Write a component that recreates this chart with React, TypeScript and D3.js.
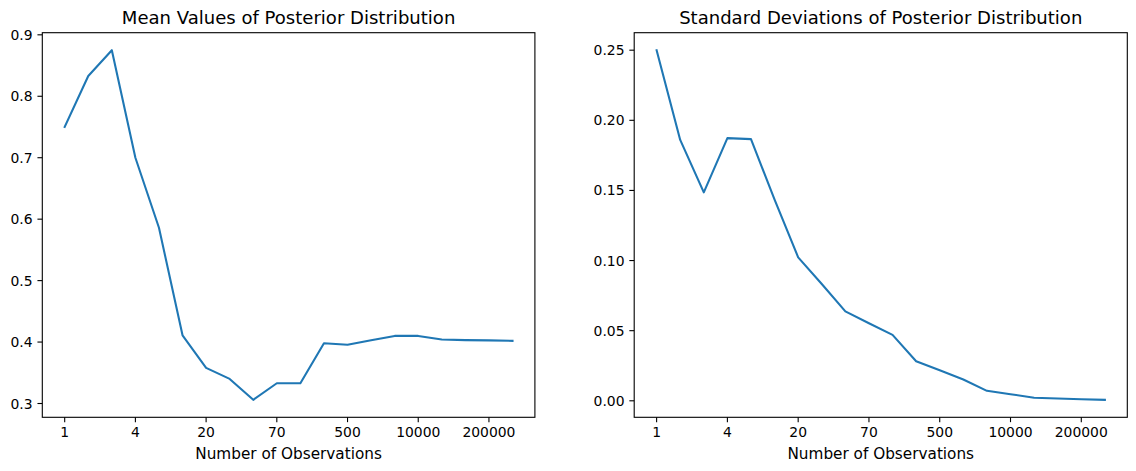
import React from 'react'
import * as d3 from 'd3'

// observation counts (only every 3rd one is labelled on the axis)
const observations = [1, 2, 3, 4, 5, 10, 20, 30, 50, 70, 100, 300, 500, 1000, 5000, 10000, 50000, 100000, 200000, 500000]

const posteriorMeans = [
  0.75, 0.833, 0.875, 0.7, 0.586, 0.411, 0.358, 0.34, 0.306, 0.333,
  0.333, 0.398, 0.3955, 0.403, 0.41, 0.41, 0.4043, 0.4032, 0.4027, 0.402,
]

const posteriorStds = [
  0.25, 0.186, 0.1486, 0.1873, 0.1866, 0.1434, 0.1023, 0.0833, 0.0638, 0.0553,
  0.047, 0.0282, 0.0218, 0.0152, 0.0071, 0.0047, 0.0022, 0.0016, 0.0011, 0.0007,
]

const meanTicks = [0.3, 0.4, 0.5, 0.6, 0.7, 0.8, 0.9]
const stdTicks = [0.0, 0.05, 0.1, 0.15, 0.2, 0.25]

const FONT = '"DejaVu Sans", Verdana, sans-serif'
const LINE_COLOR = '#1f77b4'
const TOP = 32.7
const BOTTOM = 417.3
const TICK = 4.86

interface PanelProps {
  left: number
  right: number
  title: string
  values: number[]
  yTicks: number[]
  yFormat: (v: number) => string
}

function Panel({ left, right, title, values, yTicks, yFormat }: PanelProps) {
  const n = values.length
  const xPad = (n - 1) * 0.05
  const x = d3.scaleLinear().domain([-xPad, n - 1 + xPad]).range([left, right])

  const [lo, hi] = d3.extent(values) as [number, number]
  const yPad = (hi - lo) * 0.05
  const y = d3.scaleLinear().domain([lo - yPad, hi + yPad]).range([BOTTOM, TOP])

  const line = d3.line<number>()
    .x((_, i) => x(i))
    .y(d => y(d))

  const xTickIdx = d3.range(0, n, 3)
  const cx = (left + right) / 2

  return (
    <g>
      <path d={line(values) || ''} fill="none" stroke={LINE_COLOR} strokeWidth={2.08} strokeLinejoin="round" strokeLinecap="square" />

      {/* x ticks */}
      {xTickIdx.map(i => (
        <g key={'x' + i}>
          <line x1={x(i)} x2={x(i)} y1={BOTTOM} y2={BOTTOM + TICK} stroke="#000" strokeWidth={1.1} />
          <text x={x(i)} y={437.3} textAnchor="middle" fontSize={13.9} fontFamily={FONT}>
            {observations[i]}
          </text>
        </g>
      ))}

      {/* y ticks */}
      {yTicks.map(t => (
        <g key={'y' + t}>
          <line x1={left - TICK} x2={left} y1={y(t)} y2={y(t)} stroke="#000" strokeWidth={1.1} />
          <text x={left - 9.7} y={y(t) + 5} textAnchor="end" fontSize={13.9} fontFamily={FONT}>
            {yFormat(t)}
          </text>
        </g>
      ))}

      <rect x={left} y={TOP} width={right - left} height={BOTTOM - TOP} fill="none" stroke="#000" strokeWidth={1.1} />

      <text x={cx} y={24.4} textAnchor="middle" fontSize={18.06} fontFamily={FONT}>{title}</text>
      <text x={cx} y={459.4} textAnchor="middle" fontSize={15.28} fontFamily={FONT}>Number of Observations</text>
    </g>
  )
}

export default function App() {
  return (
    <div style={{ position: 'absolute', left: 0, top: 0 }}>
      <svg width={1136} height={471} style={{ display: 'block', background: '#fff' }}>
        <Panel
          left={42.3}
          right={534.9}
          title="Mean Values of Posterior Distribution"
          values={posteriorMeans}
          yTicks={meanTicks}
          yFormat={d3.format('.1f')}
        />
        <Panel
          left={634.2}
          right={1127.3}
          title="Standard Deviations of Posterior Distribution"
          values={posteriorStds}
          yTicks={stdTicks}
          yFormat={d3.format('.2f')}
        />
      </svg>
    </div>
  )
}
